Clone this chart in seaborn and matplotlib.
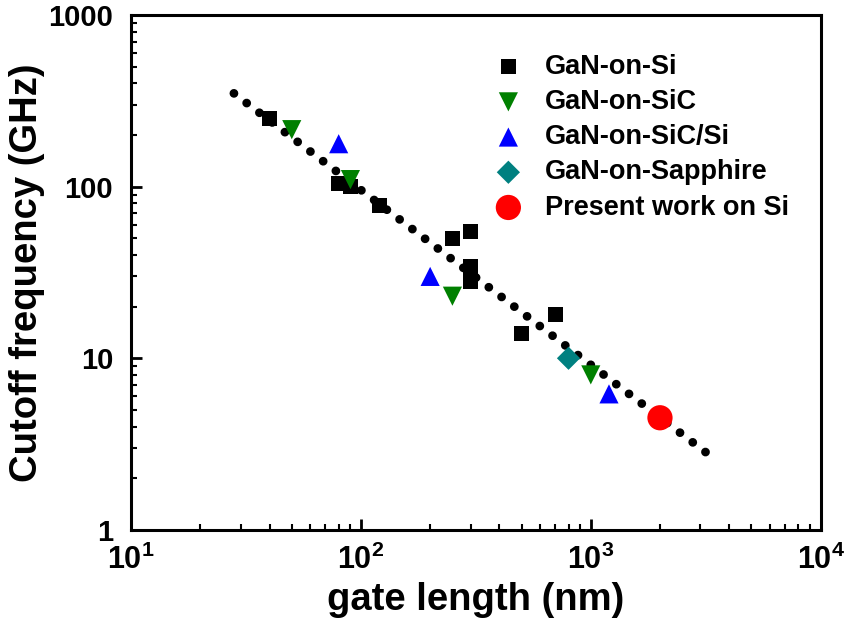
import matplotlib
matplotlib.use("Agg")
import matplotlib.pyplot as plt
import matplotlib.ticker as mticker
import seaborn as sns
import pandas as pd

# gate length (nm) vs cutoff frequency (GHz)
si_len = [40, 80, 90, 120, 250, 300, 300, 300, 500, 700]
si_ft = [250, 104, 100, 78, 50, 55, 34, 28, 14, 18]
sic_len = [50, 90, 250, 1000]
sic_ft = [215, 110, 23, 8]
sicsi_len = [80, 200, 1200]
sicsi_ft = [178, 30, 6.2]
sapph_len = [800]
sapph_ft = [10]
present_len = [2000]
present_ft = [4.5]

# dotted trend line end points
fit_len = [28, 3200]
fit_ft = [350, 2.8]

groups = [
    ("GaN-on-Si", si_len, si_ft, "s", "black", 120),
    ("GaN-on-SiC", sic_len, sic_ft, "v", "green", 190),
    ("GaN-on-SiC/Si", sicsi_len, sicsi_ft, "^", "blue", 190),
    ("GaN-on-Sapphire", sapph_len, sapph_ft, "D", "teal", 140),
    ("Present work on Si", present_len, present_ft, "o", "red", 330),
]

sns.set_style("ticks")
plt.rcParams['font.family'] = ['Liberation Sans', 'DejaVu Sans']
plt.rcParams['font.weight'] = 'bold'
plt.rcParams['text.color'] = 'black'
plt.rcParams['axes.labelcolor'] = 'black'
plt.rcParams['xtick.color'] = 'black'
plt.rcParams['ytick.color'] = 'black'
plt.rcParams['axes.edgecolor'] = 'black'
plt.rcParams['mathtext.fontset'] = 'custom'
plt.rcParams['mathtext.rm'] = 'Liberation Sans:bold'
plt.rcParams['mathtext.bf'] = 'Liberation Sans:bold'

fig = plt.figure(figsize=(8.46, 6.3), dpi=100)
ax = fig.add_axes([0.155, 0.159, 0.815, 0.817])

fit = pd.DataFrame({"L": fit_len, "f": fit_ft})
ax.plot(fit["L"], fit["f"], color="black", lw=6.3, linestyle=(0, (0.01, 1.82)),
        dash_capstyle="round", zorder=1)

for name, xs, ys, mk, col, size in groups:
    d = pd.DataFrame({"L": xs, "f": ys})
    sns.scatterplot(data=d, x="L", y="f", marker=mk, color=col, s=size,
                    edgecolor="none", label=name, ax=ax, zorder=3)

ax.set_xscale("log")
ax.set_yscale("log")
ax.set_xlim(10, 1e4)
ax.set_ylim(1, 1000)

ax.yaxis.set_major_formatter(mticker.FuncFormatter(lambda v, p: f"{v:g}"))
ax.xaxis.set_major_formatter(mticker.LogFormatterSciNotation())
ax.tick_params(which="major", direction="in", length=8, width=2,
               top=False, right=False)
ax.tick_params(axis="x", which="major", labelsize=22, pad=11)
ax.tick_params(axis="y", which="major", labelsize=21, pad=13)
ax.tick_params(which="minor", direction="in", length=4, width=1.5,
               top=False, right=False)
for sp in ax.spines.values():
    sp.set_linewidth(2.2)
for lab in ax.get_xticklabels() + ax.get_yticklabels():
    lab.set_fontweight("bold")

ax.set_xlabel("gate length (nm)", fontsize=27.5, fontweight="bold", labelpad=4)
ax.set_ylabel("Cutoff frequency (GHz)", fontsize=27.5, fontweight="bold", labelpad=2)

leg = ax.legend(loc="upper left", bbox_to_anchor=(0.5, 0.946), frameon=False,
                prop={"size": 19.5, "weight": "bold"}, handletextpad=0.55,
                handlelength=1.6, labelspacing=0.34, borderaxespad=0.0)

fig.savefig("out.png", dpi=100)
